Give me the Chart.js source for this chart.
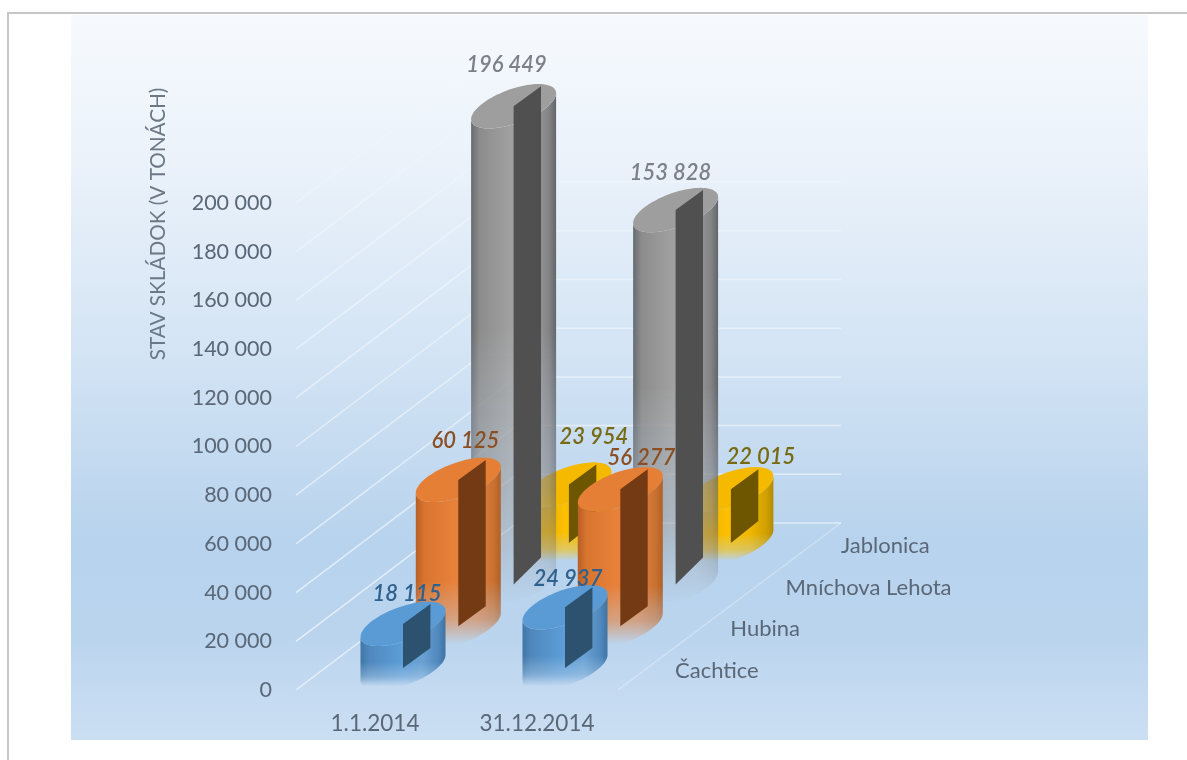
<!doctype html>
<html>
<head>
<meta charset="utf-8">
<style>html,body{margin:0;background:#fff}canvas{display:block}</style>
<script src="https://cdn.jsdelivr.net/npm/chart.js@4.4.1/dist/chart.umd.min.js"></script>
</head>
<body>
<canvas id="c" width="1187" height="760"></canvas>
<script>
const categories=['1.1.2014','31.12.2014'];
const seriesNames=['Čachtice','Hubina','Mníchova Lehota','Jablonica'];
const cachtice=[18115,24937];
const hubina=[60125,56277];
const mnichovaLehota=[196449,153828];
const jablonica=[23954,22015];
const yTicksMax=200000;
const yStep=20000;
const yTitle='STAV SKLÁDOK (V TONÁCH)';

const fontName='Lato, "Open Sans", sans-serif';
const DEPTH={x0:28,y0:22,dx:55.3,dy:41.7};
const WALL={dx:223,dy:167};
const BODY_STOPS=[0,.1,.45,.72,.92,1];
// body gradient, top cap, cut panel, label colour per row
const LOOK=[
  {stops:['#3f76a6','#5088bc','#5b9bd5','#6aa2d4','#4f88bc','#3f73a2'],top:'#5b9bd5',panel:'#2d5270',text:'#2f618e',drop:20,fade:.62},
  {stops:['#b85e24','#d8752f','#e8813a','#e08040','#c87030','#b06028'],top:'#e47f35',panel:'#733a14',text:'#8a4f24',drop:20,fade:.62},
  {stops:['#686c70','#8c8c8c','#a0a0a0','#a0a0a0','#828284','#62666a'],top:'#9e9e9e',panel:'#505050',text:'#7d8187',drop:27,fade:.45},
  {stops:['#c09000','#e0a800','#fcc000','#f0b800','#d0a000','#b08c00'],top:'#f5ba00',panel:'#6e5500',text:'#786a12',drop:22,fade:.62}
];
// label shift from the cap centre, [row][category]
const LABEL_SHIFT=[
  [[4,-30],[3,-28]],
  [[7,-39],[21,-31]],
  [[-7,-41],[-5,-37]],
  [[25,-48],[30,-32]]
];

const fmt=(v)=>String(v).replace(/\B(?=(\d{3})+$)/g,' ');

function capPoint(cx,cy,hw,t){
  const k=13/42.5;
  return [cx+hw*Math.cos(t), cy-hw*k*Math.cos(t)+18*Math.sin(t)];
}

function drawCylinder(ctx,off,look,cx,cy,by,hw){
  const o=off.getContext('2d');
  o.globalCompositeOperation='source-over';
  o.clearRect(0,0,off.width,off.height);
  o.beginPath();
  for(let i=0;i<=40;i++){
    const p=capPoint(cx,cy,hw,Math.PI-i*Math.PI/40);
    i?o.lineTo(p[0],p[1]):o.moveTo(p[0],p[1]);
  }
  for(let i=0;i<=40;i++){
    const p=capPoint(cx,by,hw,i*Math.PI/40);
    o.lineTo(p[0],p[1]);
  }
  o.closePath();
  const g=o.createLinearGradient(cx-hw,0,cx+hw,0);
  BODY_STOPS.forEach((s,i)=> g.addColorStop(s,look.stops[i]));
  o.fillStyle=g;
  o.fill();
  const fade=o.createLinearGradient(0,cy,0,by+18);
  fade.addColorStop(0,'rgba(0,0,0,1)');
  fade.addColorStop(look.fade,'rgba(0,0,0,1)');
  fade.addColorStop(look.fade+(1-look.fade)*.6,'rgba(0,0,0,.6)');
  fade.addColorStop(1,'rgba(0,0,0,0)');
  o.globalCompositeOperation='destination-in';
  o.fillStyle=fade;
  o.fillRect(0,0,off.width,off.height);
  ctx.drawImage(off,0,0);

  // top cap
  ctx.beginPath();
  for(let i=0;i<=80;i++){
    const p=capPoint(cx,cy,hw,i*Math.PI/40);
    i?ctx.lineTo(p[0],p[1]):ctx.moveTo(p[0],p[1]);
  }
  ctx.closePath();
  ctx.fillStyle=look.top;
  ctx.fill();

  // cut panel
  const w=hw*.645;
  ctx.beginPath();
  ctx.moveTo(cx,cy);
  ctx.lineTo(cx+w,cy-20);
  ctx.lineTo(cx+w,by-look.drop);
  ctx.lineTo(cx,by);
  ctx.closePath();
  ctx.fillStyle=look.panel;
  ctx.fill();
}

const scene={
  id:'scene',
  beforeDraw(chart){
    const {ctx}=chart;
    ctx.save();
    ctx.fillStyle='#fff';
    ctx.fillRect(0,0,chart.width,chart.height);
    ctx.strokeStyle='#c6c6c6';
    ctx.lineWidth=2;
    ctx.beginPath();
    ctx.moveTo(8,760);ctx.lineTo(8,13);ctx.lineTo(1187,13);
    ctx.stroke();
    const g=ctx.createLinearGradient(0,15,0,740);
    g.addColorStop(0,'#f6fafe');
    g.addColorStop(.2,'#ebf2fa');
    g.addColorStop(.45,'#d5e5f5');
    g.addColorStop(.72,'#b8d3ed');
    g.addColorStop(.85,'#bad4ee');
    g.addColorStop(1,'#cbdff3');
    ctx.fillStyle=g;
    ctx.fillRect(71,15,1077,725);

    // side wall and back wall lines
    const y=chart.scales.y, x=chart.scales.x;
    const line=ctx.createLinearGradient(0,100,0,600);
    line.addColorStop(0,'rgba(255,255,255,.08)');
    line.addColorStop(.4,'rgba(255,255,255,.4)');
    line.addColorStop(1,'rgba(255,255,255,.6)');
    ctx.lineWidth=1.5;
    ctx.strokeStyle=line;
    y.ticks.forEach((t)=>{
      const py=y.getPixelForValue(t.value);
      ctx.beginPath();
      ctx.moveTo(x.left+2,py);
      ctx.lineTo(x.left+WALL.dx,py-WALL.dy);
      ctx.lineTo(x.right+WALL.dx,py-WALL.dy);
      ctx.stroke();
    });
    ctx.strokeStyle='rgba(255,255,255,.3)';
    ctx.beginPath();
    ctx.moveTo(x.right,y.bottom);
    ctx.lineTo(x.right+WALL.dx,y.bottom-WALL.dy);
    ctx.stroke();
    ctx.restore();
  },
  afterDatasetsDraw(chart){
    const {ctx}=chart;
    const off=document.createElement('canvas');
    off.width=chart.width;off.height=chart.height;
    const rows=[3,2,1,0];
    const caps=[];
    ctx.save();
    rows.forEach((r)=>{
      const dx=DEPTH.x0+DEPTH.dx*r, dy=DEPTH.y0+DEPTH.dy*r;
      chart.getDatasetMeta(r).data.forEach((el,j)=>{
        const cy=el.y-dy, by=el.base-dy;
        drawCylinder(ctx,off,LOOK[r],el.x+dx,cy,by,el.width/2);
        caps.push({r,j,x:el.x+dx,y:cy});
      });
    });
    ctx.textAlign='center';
    ctx.textBaseline='middle';
    ctx.font='italic 600 22px '+fontName;
    caps.forEach((c)=>{
      const s=LABEL_SHIFT[c.r][c.j];
      ctx.fillStyle=LOOK[c.r].text;
      ctx.fillText(fmt(chart.data.datasets[c.r].data[c.j]),c.x+s[0],c.y+s[1]);
    });

    const x=chart.scales.x, y=chart.scales.y;
    ctx.font='22px '+fontName;
    ctx.fillStyle='#5a6776';
    ctx.textAlign='left';
    seriesNames.forEach((n,r)=>{
      ctx.fillText(n,x.right+57+DEPTH.dx*r,y.bottom-19-DEPTH.dy*r);
    });
    ctx.translate(158,224);
    ctx.rotate(-Math.PI/2);
    ctx.textAlign='center';
    ctx.font='20.7px '+fontName;
    ctx.fillStyle='#6b7886';
    ctx.fillText(yTitle,0,0);
    ctx.restore();
  }
};

new Chart(document.getElementById('c'),{
  type:'bar',
  data:{
    labels:categories,
    datasets:[cachtice,hubina,mnichovaLehota,jablonica].map((data,i)=>({
      label:seriesNames[i],data,backgroundColor:'rgba(0,0,0,0)',borderWidth:0,barThickness:85,grouped:false
    }))
  },
  options:{
    responsive:false,
    animation:false,
    devicePixelRatio:1,
    layout:{padding:{left:0,top:203,right:569,bottom:20}},
    plugins:{legend:{display:false},tooltip:{enabled:false}},
    scales:{
      x:{
        afterFit(s){ s.height=50; },
        border:{display:false},
        grid:{display:false,drawTicks:false},
        ticks:{padding:20,maxRotation:0,autoSkip:false,color:'#5a6776',font:{family:fontName,size:22.5}}
      },
      y:{
        min:0,max:yTicksMax,
        afterFit(s){ s.width=294; },
        border:{display:false},
        grid:{display:false},
        ticks:{stepSize:yStep,padding:14,color:'#5a6776',font:{family:fontName,size:21.5},callback:(v)=>fmt(v)}
      }
    }
  },
  plugins:[scene]
});
</script>
</body>
</html>
